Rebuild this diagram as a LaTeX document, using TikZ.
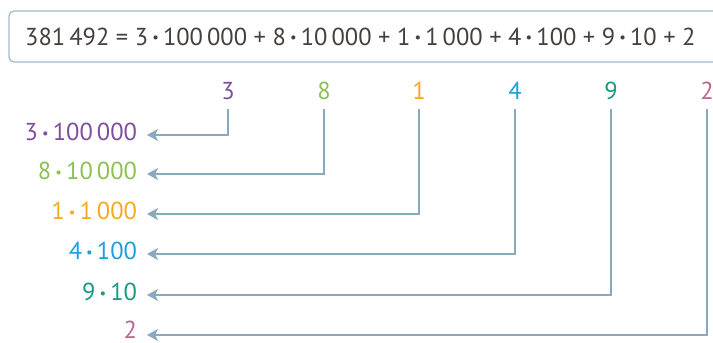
\documentclass[tikz,border=0pt]{standalone}
\usepackage{fontspec}
\setmainfont{PT Sans}
\usepackage{graphicx}
\usetikzlibrary{arrows.meta}

\definecolor{numgray}{RGB}{70,64,60}
\definecolor{boxblue}{RGB}{160,186,205}
\definecolor{linkblue}{RGB}{138,168,190}
\definecolor{cthree}{RGB}{125,78,160}
\definecolor{ceight}{RGB}{141,192,82}
\definecolor{cone}{RGB}{247,168,35}
\definecolor{cfour}{RGB}{28,160,220}
\definecolor{cnine}{RGB}{22,155,130}
\definecolor{ctwo}{RGB}{186,102,140}

\newcommand{\mal}{\,\raisebox{0.22ex}{\scalebox{0.6}{•}}\,}

\begin{document}
\begin{tikzpicture}[
    x=1pt, y=-1pt,
    font=\fontsize{24.5}{28}\selectfont,
    digit/.style={anchor=south, inner sep=0pt, text depth=0pt},
    part/.style={anchor=east, inner sep=0pt, text depth=0pt, outer xsep=10pt},
    link/.style={draw=linkblue, line width=2pt, -{Stealth[length=11pt, width=12pt, inset=3pt]}},
    ]
    \useasboundingbox (0,0) rectangle (713,343);

    % the sum in its box
    \draw[boxblue, line width=1.2pt, rounded corners=5pt] (9,11) rectangle (730,62);
    \node[anchor=west, inner sep=0pt, text=numgray] (eq) at (25,37)
        {381\,492 = 3\mal 100\,000 + 8\mal 10\,000 + 1\mal 1\,000 + 4\mal 100 + 9\mal 10 + 2};

    % digits
    \node[digit, text=cthree] (d3) at (228,100) {3};
    \node[digit, text=ceight] (d8) at (324,100) {8};
    \node[digit, text=cone]   (d1) at (419,100) {1};
    \node[digit, text=cfour]  (d4) at (515,100) {4};
    \node[digit, text=cnine]  (d9) at (611,100) {9};
    \node[digit, text=ctwo]   (d2) at (707,100) {2};

    % place values
    \node[part, text=cthree] (p3) at (147,132) {3\mal 100\,000};
    \node[part, text=ceight] (p8) at (147,171) {8\mal 10\,000};
    \node[part, text=cone]   (p1) at (147,211) {1\mal 1\,000};
    \node[part, text=cfour]  (p4) at (147,251) {4\mal 100};
    \node[part, text=cnine]  (p9) at (147,292) {9\mal 10};
    \node[part, text=ctwo]   (p2) at (147,330) {2};

    % connectors
    \draw[link] ([yshift=-9pt]d3.south) |- ([yshift=-3pt]p3.east);
    \draw[link] ([yshift=-9pt]d8.south) |- ([yshift=-3pt]p8.east);
    \draw[link] ([yshift=-9pt]d1.south) |- ([yshift=-3pt]p1.east);
    \draw[link] ([yshift=-9pt]d4.south) |- ([yshift=-3pt]p4.east);
    \draw[link] ([yshift=-9pt]d9.south) |- ([yshift=-3pt]p9.east);
    \draw[link] ([yshift=-9pt]d2.south) |- ([yshift=-5pt]p2.east);

  \end{tikzpicture}
\end{document}
